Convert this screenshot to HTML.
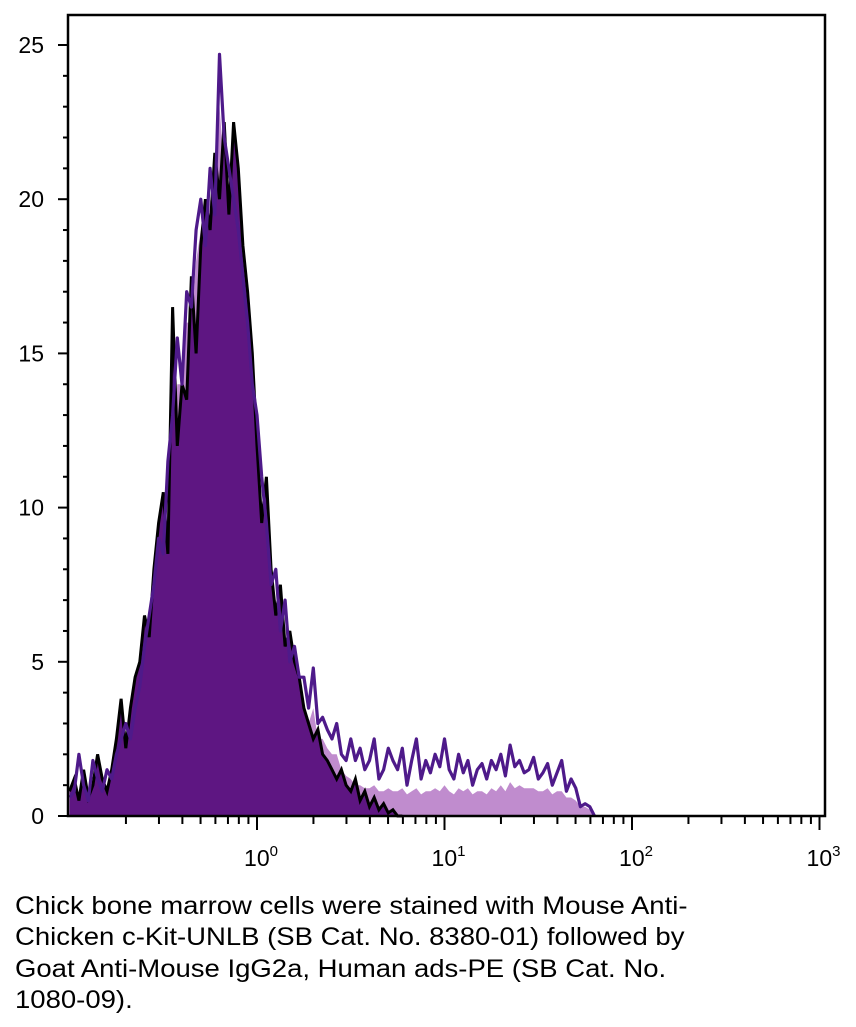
<!DOCTYPE html>
<html><head><meta charset="utf-8"><style>
html,body{margin:0;padding:0;background:#fff;width:856px;height:1027px;overflow:hidden}
svg{display:block}
.cap{position:absolute;left:15px;top:891px;font-family:"Liberation Sans",sans-serif;font-size:25px;line-height:31.3px;color:#000;width:700px;white-space:nowrap;transform:scaleX(1.1);transform-origin:0 0}
</style></head><body>
<svg id="chart" width="856" height="880" xmlns="http://www.w3.org/2000/svg" style="position:absolute;left:0;top:0"></svg>
<div class="cap">Chick bone marrow cells were stained with Mouse Anti-<br>Chicken c-Kit-UNLB (SB Cat. No. 8380-01) followed by<br>Goat Anti-Mouse IgG2a, Human ads-PE (SB Cat. No.<br>1080-09).</div>
<script>
const binStartLog = -1.0;
const binStepLog = 0.025;
const controlCounts = [0.8,1.2,0.5,1.5,0.6,1.0,2.0,1.2,0.8,1.5,
2.5,3.8,2.2,3.5,4.5,5.0,6.5,5.8,8.0,9.5,
10.5,8.5,16.5,12,14,13.5,17.5,15,18.5,20,
19,21.5,20,22.5,19.5,22.5,21,18.5,17,15,
12,9.5,11,8,6.5,7.5,5.5,6,5,4.5,
3.5,3,2.5,2.8,2.0,1.8,1.5,1.2,1.5,1.0,
0.8,1.2,0.5,0.8,0.3,0.6,0.2,0.4,0.1,0.2,0,0];
const stainedCounts = [0.6,0.8,2.0,1.0,0.5,1.8,1.2,0.8,1.5,1.2,
2.0,2.5,3.0,2.5,3.5,4.2,5.5,6.5,7.5,9,
8.5,11.5,13,15.5,14,17,16.5,19,20,18.5,
21,19.5,24.7,22,21,20,19,17.5,16,14,
13,11,9.5,7.5,8,6,7,5,5.5,4.5,
4.5,3.5,4.8,3.0,3.2,2.8,2.5,3.0,2.0,1.8,
2.5,1.8,2.2,1.5,1.8,2.5,1.2,1.5,2.2,1.8,
1.5,2.2,1.0,1.8,2.5,1.2,1.8,1.4,2.0,1.6,
2.5,1.5,1.2,2.0,1.4,1.8,1.0,1.5,1.7,1.2,
1.8,1.5,2.0,1.3,2.3,1.6,1.8,1.4,1.5,1.9,
1.2,1.4,1.7,1.0,1.4,1.8,0.8,1.2,0.9,0.3,
0.4,0.3,0];
const stainedFillCounts = [0.3,0.4,0.6,0.6,0.6,0.7,0.8,0.8,0.9,1.0,
1.5,2,2.5,2.5,3,3.5,4.5,5.5,6.5,8,
8,10,12,14,14,16,16,18,19,18,
20,19,23,21,20,19,18,17,15,13,
12,10,9,7,7,5.5,6,4.5,5,4,
3.5,3.0,3.5,2.5,2.5,2.2,2.0,2.0,1.5,1.3,
1.2,1.0,1.0,0.9,0.9,1.0,0.8,0.8,0.9,0.8,
0.8,0.9,0.7,0.8,0.9,0.7,0.8,0.8,0.9,0.8,
1.0,0.8,0.7,0.9,0.8,0.9,0.7,0.8,0.8,0.7,
0.9,0.8,1.0,0.8,1.1,0.9,1.0,0.9,0.9,0.9,
0.8,0.8,0.9,0.7,0.8,0.8,0.6,0.6,0.5,0.3,
0.3,0.2,0];
const yTicks = [0,5,10,15,20,25];
const xDecades = [0,1,2,3];

const svg = document.getElementById('chart');
const NS = 'http://www.w3.org/2000/svg';
const L=68,R=825,T=15,B=816;
const xOf = lg => 257 + 187.5*lg;
const yOf = v => B - v*30.84;
function mk(tag, attrs){const e=document.createElementNS(NS,tag);for(const k in attrs)e.setAttribute(k,attrs[k]);svg.appendChild(e);return e;}
function pts(arr){return arr.map((v,i)=>xOf(binStartLog+binStepLog*i).toFixed(1)+','+yOf(v).toFixed(1)).join(' ');}
function area(arr){const x0=xOf(binStartLog),x1=xOf(binStartLog+binStepLog*(arr.length-1));return 'M'+x0.toFixed(1)+','+B+' L'+pts(arr).replace(/ /g,' L')+' L'+x1.toFixed(1)+','+B+' Z';}

let e;
e=mk('path',{d:area(stainedFillCounts),fill:'#c08cce',stroke:'none'});


e=mk('path',{d:area(controlCounts),fill:'#5e1682',stroke:'none'});


e=mk('polyline',{points:pts(controlCounts),fill:'none',stroke:'#000','stroke-width':3});


e=mk('polyline',{points:pts(stainedCounts),fill:'none',stroke:'#4e1a8a','stroke-width':3.2,'stroke-linejoin':'round'});



e=mk('rect',{x:L,y:T,width:R-L,height:B-T,fill:'none',stroke:'#000','stroke-width':2.5});



for(let v=0;v<=25;v++){
  const major = yTicks.includes(v);
  e=mk('line',{x1:L-(major?10:5),x2:L,y1:yOf(v),y2:yOf(v),stroke:'#000','stroke-width':2});
  
  
}
yTicks.forEach(v=>{
  e=mk('text',{x:44,y:yOf(v)+8,'text-anchor':'end','font-family':'Liberation Sans, sans-serif','font-size':23});
  e.textContent=v;
  
  
});
for(let d=-1; d<3; d++){
  for(let m=1;m<=9;m++){
    const lg=d+Math.log10(m);
    const x=xOf(lg);
    if(x<L+2) continue;
    e=mk('line',{x1:x,x2:x,y1:B,y2:B+(m===1?14:8),stroke:'#000','stroke-width':2});
    
    
  }
}
e=mk('line',{x1:xOf(3),x2:xOf(3),y1:B,y2:B+14,stroke:'#000','stroke-width':2});


xDecades.forEach(d=>{
  e=mk('text',{x:xOf(d)+4,y:866,'text-anchor':'middle','font-family':'Liberation Sans, sans-serif','font-size':23});
  
  
  const t1=document.createElementNS(NS,'tspan');t1.textContent='10';e.appendChild(t1);
  const t2=document.createElementNS(NS,'tspan');t2.setAttribute('dy','-10');t2.setAttribute('font-size','15');t2.textContent=d;e.appendChild(t2);
});
</script>
</body></html>
